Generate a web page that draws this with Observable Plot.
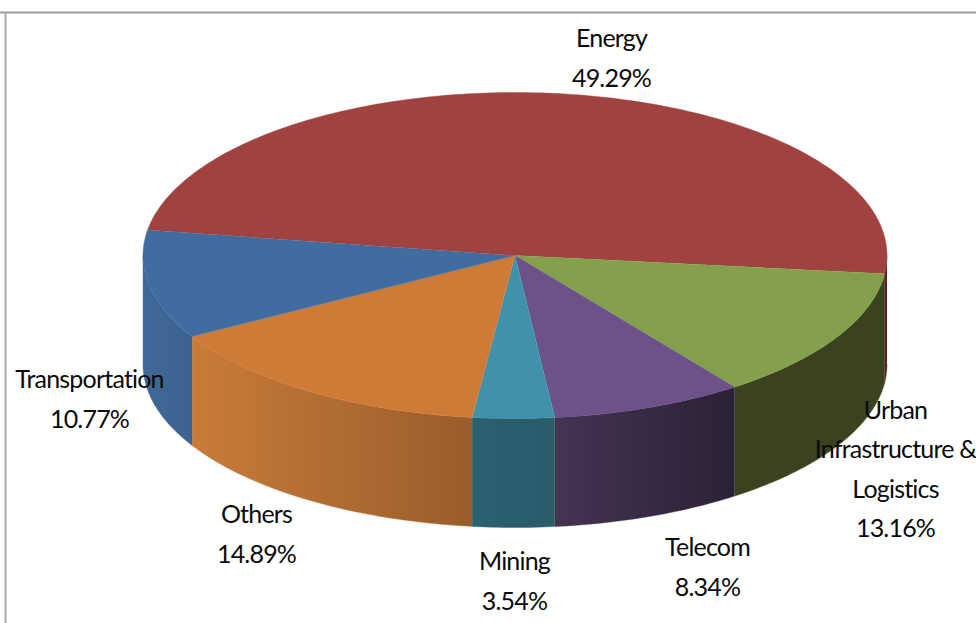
<!DOCTYPE html>
<html><head><meta charset="utf-8">
<script src="https://cdn.jsdelivr.net/npm/d3@7"></script>
<script src="https://cdn.jsdelivr.net/npm/@observablehq/plot@0.6"></script>
<style>html,body{margin:0;padding:0;background:#fff}svg{display:block}</style>
</head><body><div id="chart"></div>
<script>
const categories = ["Energy","Urban Infrastructure & Logistics","Telecom","Mining","Others","Transportation"];
const shares = [49.29,13.16,8.34,3.54,14.89,10.77];
const labelLines = ["Energy","Urban\nInfrastructure &\nLogistics","Telecom","Mining","Others","Transportation"];
const topColors = ["#a0423f","#84a04c","#6c5288","#3f92aa","#ce7b38","#416c9f"];
const sideFrom = ["#5c1f1f","#3a421f","#453352","#2a6070","#c87c39","#3f6999"];
const sideTo = ["#5c1f1f","#3a421f","#2b2136","#2a5c6a","#9a5c2b","#3c6290"];

const pie = {cx:514.5, cy:255, rx:372, ry:163, depth:109, start:-171};
const labelPos = [[611,54],[895,465],[707,563],[514,577],[256,530],[89,395]];

const total = d3.sum(shares);
let acc = pie.start;
const slices = shares.map((v,i)=>{const a0=acc; acc+=v/total*360; return {i,a0,a1:acc};});
const pt=(deg,dz=0)=>{const r=deg*Math.PI/180;return {x:pie.cx+pie.rx*Math.cos(r),y:pie.cy+pie.ry*Math.sin(r)+dz};};
const arc=(a0,a1,dz=0)=>{const n=Math.max(2,Math.ceil(Math.abs(a1-a0)));return d3.range(n+1).map(k=>pt(a0+(a1-a0)*k/n,dz));};
const topPoly=s=>[{x:pie.cx,y:pie.cy},...arc(s.a0,s.a1)];
const sidePoly=s=>{
  const ranges=[[s.a0,s.a1],[s.a0+360,s.a1+360],[s.a0-360,s.a1-360]];
  for(const [a,b] of ranges){
    const lo=Math.max(a,0),hi=Math.min(b,180);
    if(hi>lo) return [...arc(lo,hi),...arc(hi,lo,pie.depth)];
  }
  return null;
};
const defs=()=>{
  const s=d3.create("svg:defs");
  slices.forEach(d=>{
    const g=s.append("linearGradient").attr("id","side"+d.i);
    g.append("stop").attr("offset","0%").attr("stop-color",sideFrom[d.i]);
    g.append("stop").attr("offset","100%").attr("stop-color",sideTo[d.i]);
  });
  return s.node();
};
const labels=categories.map((c,i)=>({text:labelLines[i]+"\n"+shares[i].toFixed(2)+"%",x:labelPos[i][0],y:labelPos[i][1]}));

const plot=Plot.plot({
  width:976,height:623,margin:0,
  style:{letterSpacing:"-0.8px"},
  x:{domain:[0,976],range:[0,976],axis:null},
  y:{domain:[0,623],range:[0,623],axis:null},
  marks:[
    defs,
    Plot.ruleY([12],{stroke:"#9a9a9a",strokeWidth:2}),
    Plot.ruleX([5],{stroke:"#a8a8a8",strokeWidth:2,y1:12,y2:623}),
    ...slices.filter(sidePoly).map(s=>Plot.line(sidePoly(s),{x:"x",y:"y",fill:`url(#side${s.i})`,stroke:sideFrom[s.i],strokeWidth:0.4,curve:"linear"})),
    ...slices.map(s=>Plot.line(topPoly(s),{x:"x",y:"y",fill:topColors[s.i],stroke:topColors[s.i],strokeWidth:0.4,curve:"linear"})),
    Plot.text(labels,{x:"x",y:"y",text:"text",fontFamily:"Lato",fontSize:25,lineHeight:1.58,fill:"#0a0a0a",textAnchor:"middle",lineAnchor:"middle"})
  ]
});
document.getElementById("chart").append(plot);
</script></body></html>
